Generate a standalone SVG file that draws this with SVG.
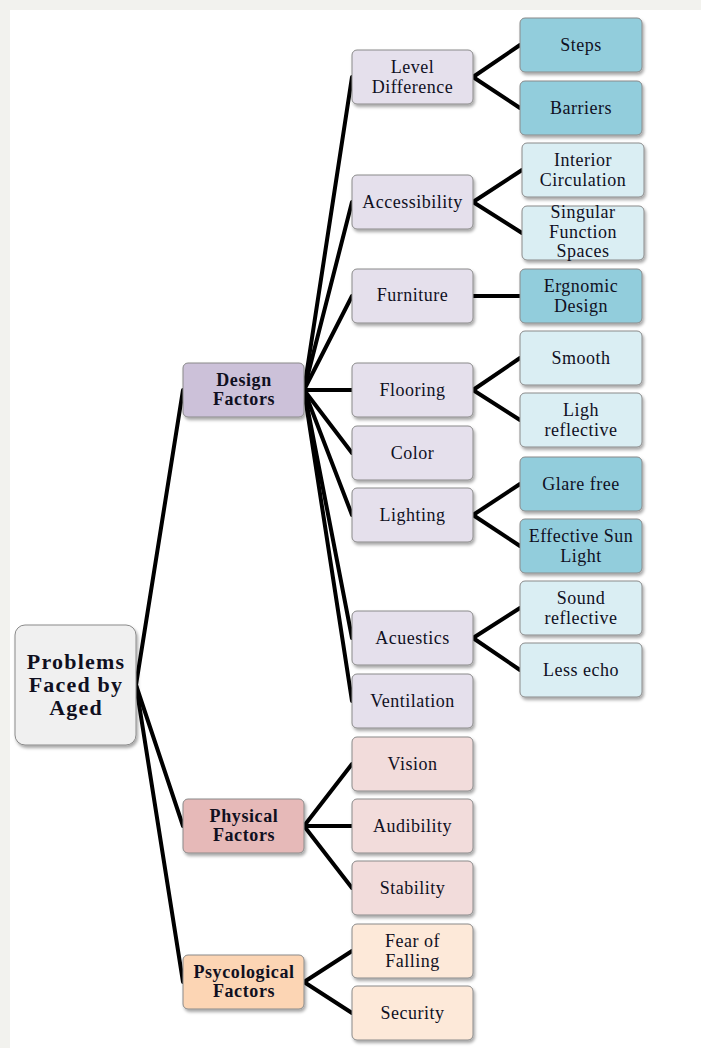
<svg xmlns="http://www.w3.org/2000/svg" width="701" height="1048" viewBox="0 0 701 1048">
<defs>
<filter id="sh" x="-10%" y="-10%" width="130%" height="140%">
<feDropShadow dx="1.5" dy="2.5" stdDeviation="1.5" flood-color="#000" flood-opacity="0.35"/>
</filter>
<style>
.b{stroke:#8a8a8a;stroke-width:1;filter:url(#sh)}
.root{fill:#f0f0f0}
.d1{fill:#ccc1d9}.d2{fill:#e5e0ec}
.p1{fill:#e6b9b8}.p2{fill:#f2dcdb}
.s1{fill:#fcd5b4}.s2{fill:#fde9d9}
.t1{fill:#92cddc}.t2{fill:#daeef3}
text{font-family:"Liberation Serif","Times New Roman",serif;fill:#10101f;text-anchor:middle}
.n{font-size:18px;letter-spacing:0.5px}
.bo{font-size:18px;font-weight:bold;letter-spacing:0.6px}
.r{font-size:22px;font-weight:bold;letter-spacing:1.2px}
.c line{stroke:#000;stroke-width:4;stroke-linecap:round}
</style>
</defs>
<rect x="0" y="0" width="701" height="1048" fill="#f2f2ee"/>
<rect x="10" y="10" width="691" height="1038" fill="#ffffff"/>

<g id="connectors" class="c">
<line x1="136" y1="685" x2="183" y2="390"/>
<line x1="136" y1="685" x2="183" y2="826"/>
<line x1="136" y1="685" x2="183" y2="982"/>
<line x1="304" y1="390" x2="352" y2="77"/>
<line x1="304" y1="390" x2="352" y2="202"/>
<line x1="304" y1="390" x2="352" y2="296"/>
<line x1="304" y1="390" x2="352" y2="390"/>
<line x1="304" y1="390" x2="352" y2="453"/>
<line x1="304" y1="390" x2="352" y2="515"/>
<line x1="304" y1="390" x2="352" y2="638"/>
<line x1="304" y1="390" x2="352" y2="701"/>
<line x1="473" y1="77" x2="520" y2="45"/>
<line x1="473" y1="77" x2="520" y2="108"/>
<line x1="473" y1="202" x2="522" y2="170"/>
<line x1="473" y1="202" x2="522" y2="233"/>
<line x1="473" y1="296" x2="520" y2="296"/>
<line x1="473" y1="390" x2="520" y2="358"/>
<line x1="473" y1="390" x2="520" y2="420"/>
<line x1="473" y1="515" x2="520" y2="484"/>
<line x1="473" y1="515" x2="520" y2="546"/>
<line x1="473" y1="638" x2="520" y2="608"/>
<line x1="473" y1="638" x2="520" y2="670"/>
<line x1="304" y1="826" x2="352" y2="764"/>
<line x1="304" y1="826" x2="352" y2="826"/>
<line x1="304" y1="826" x2="352" y2="888"/>
<line x1="304" y1="982" x2="352" y2="951"/>
<line x1="304" y1="982" x2="352" y2="1013"/>
</g>

<g id="root"><rect class="b root" x="15" y="625" width="121" height="120" rx="10"/>
<text class="r" x="76" y="669">Problems</text><text class="r" x="76" y="692">Faced by</text><text class="r" x="76" y="715">Aged</text></g>

<g id="design"><rect class="b d1" x="183" y="363" width="121" height="54" rx="5"/>
<text class="bo" x="244" y="386">Design</text><text class="bo" x="244" y="404.7">Factors</text></g>
<g id="physical"><rect class="b p1" x="183" y="799" width="121" height="54" rx="5"/>
<text class="bo" x="244" y="822">Physical</text><text class="bo" x="244" y="840.7">Factors</text></g>
<g id="psycological"><rect class="b s1" x="183" y="955" width="121" height="54" rx="5"/>
<text class="bo" x="244" y="978">Psycological</text><text class="bo" x="244" y="996.7">Factors</text></g>

<g id="level-difference"><rect class="b d2" x="352" y="50" width="121" height="54" rx="5"/>
<text class="n" x="412.5" y="73.3">Level</text><text class="n" x="412.5" y="93">Difference</text></g>
<g id="accessibility"><rect class="b d2" x="352" y="175" width="121" height="54" rx="5"/>
<text class="n" x="412.5" y="207.5">Accessibility</text></g>
<g id="furniture"><rect class="b d2" x="352" y="269" width="121" height="54" rx="5"/>
<text class="n" x="412.5" y="301">Furniture</text></g>
<g id="flooring"><rect class="b d2" x="352" y="363" width="121" height="54" rx="5"/>
<text class="n" x="412.5" y="395.5">Flooring</text></g>
<g id="color"><rect class="b d2" x="352" y="426" width="121" height="54" rx="5"/>
<text class="n" x="412.5" y="458.5">Color</text></g>
<g id="lighting"><rect class="b d2" x="352" y="488" width="121" height="54" rx="5"/>
<text class="n" x="412.5" y="520.5">Lighting</text></g>
<g id="acuestics"><rect class="b d2" x="352" y="611" width="121" height="54" rx="5"/>
<text class="n" x="412.5" y="643.5">Acuestics</text></g>
<g id="ventilation"><rect class="b d2" x="352" y="674" width="121" height="54" rx="5"/>
<text class="n" x="412.5" y="706.5">Ventilation</text></g>

<g id="vision"><rect class="b p2" x="352" y="737" width="121" height="54" rx="5"/>
<text class="n" x="412.5" y="769.5">Vision</text></g>
<g id="audibility"><rect class="b p2" x="352" y="799" width="121" height="54" rx="5"/>
<text class="n" x="412.5" y="831.5">Audibility</text></g>
<g id="stability"><rect class="b p2" x="352" y="861" width="121" height="54" rx="5"/>
<text class="n" x="412.5" y="893.5">Stability</text></g>
<g id="fear-of-falling"><rect class="b s2" x="352" y="924" width="121" height="54" rx="5"/>
<text class="n" x="412.5" y="947.3">Fear of</text><text class="n" x="412.5" y="967">Falling</text></g>
<g id="security"><rect class="b s2" x="352" y="986" width="121" height="54" rx="5"/>
<text class="n" x="412.5" y="1018.5">Security</text></g>

<g id="steps"><rect class="b t1" x="520" y="18" width="122" height="54" rx="5"/>
<text class="n" x="581" y="50.5">Steps</text></g>
<g id="barriers"><rect class="b t1" x="520" y="81" width="122" height="54" rx="5"/>
<text class="n" x="581" y="113.5">Barriers</text></g>
<g id="interior-circulation"><rect class="b t2" x="522" y="143" width="122" height="54" rx="5"/>
<text class="n" x="583" y="166.3">Interior</text><text class="n" x="583" y="186">Circulation</text></g>
<g id="singular-function-spaces"><rect class="b t2" x="522" y="206" width="122" height="54" rx="5"/>
<text class="n" x="583" y="218.3">Singular</text><text class="n" x="583" y="238.3">Function</text><text class="n" x="583" y="257">Spaces</text></g>
<g id="ergnomic-design"><rect class="b t1" x="520" y="269" width="122" height="54" rx="5"/>
<text class="n" x="581" y="292.3">Ergnomic</text><text class="n" x="581" y="312">Design</text></g>
<g id="smooth"><rect class="b t2" x="520" y="331" width="122" height="54" rx="5"/>
<text class="n" x="581" y="363.5">Smooth</text></g>
<g id="ligh-reflective"><rect class="b t2" x="520" y="393" width="122" height="54" rx="5"/>
<text class="n" x="581" y="416.3">Ligh</text><text class="n" x="581" y="436">reflective</text></g>
<g id="glare-free"><rect class="b t1" x="520" y="457" width="122" height="54" rx="5"/>
<text class="n" x="581" y="489.5">Glare free</text></g>
<g id="effective-sun-light"><rect class="b t1" x="520" y="519" width="122" height="54" rx="5"/>
<text class="n" x="581" y="542.3">Effective Sun</text><text class="n" x="581" y="562">Light</text></g>
<g id="sound-reflective"><rect class="b t2" x="520" y="581" width="122" height="54" rx="5"/>
<text class="n" x="581" y="604.3">Sound</text><text class="n" x="581" y="624">reflective</text></g>
<g id="less-echo"><rect class="b t2" x="520" y="643" width="122" height="54" rx="5"/>
<text class="n" x="581" y="675.5">Less echo</text></g>
</svg>
